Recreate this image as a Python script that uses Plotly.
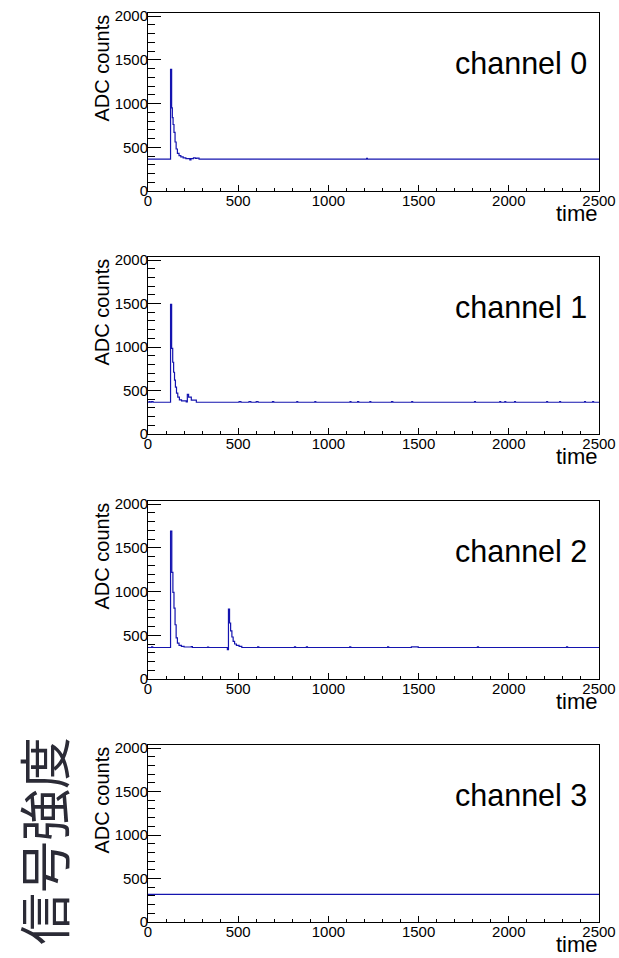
import plotly.graph_objects as go

W, H = 619, 958

# ---------------- data ----------------
ch0_t = [0, 125, 131, 135, 139, 144, 150, 156, 163, 172, 182, 195, 210, 232, 238, 252, 262, 270, 283, 1212, 1216, 2500]
ch0_v = [365, 1390, 950, 840, 760, 670, 560, 480, 430, 405, 390, 378, 370, 355, 370, 380, 372, 376, 365, 372, 365, 365]

ch1_t = [0, 6, 12, 20, 28, 125, 131, 137, 142, 147, 152, 158, 165, 174, 186, 212, 218, 225, 240, 268, 505, 515, 560, 570, 600, 610, 690, 697,
         825, 830, 925, 930, 1120, 1125, 1162, 1168, 1230, 1235, 1350, 1357, 1462, 1467, 1810, 1815, 1950, 1955, 1978, 1983, 2032, 2037,
         2210, 2215, 2282, 2287, 2420, 2425, 2465, 2470, 2500]
ch1_v = [365, 372, 365, 372, 365, 1490, 985, 825, 710, 620, 540, 470, 425, 392, 380, 370, 457, 423, 389, 365, 372, 365, 372, 365, 372, 365, 372, 365,
         372, 365, 372, 365, 372, 365, 372, 365, 372, 365, 372, 365, 372, 365, 372, 365, 372, 365, 372, 365, 372, 365,
         372, 365, 372, 365, 372, 365, 372, 365, 365]

ch2_t = [0, 20, 26, 125, 132, 138, 144, 150, 156, 163, 172, 185, 200, 240, 246, 330, 336, 440, 446, 452, 458, 465, 472, 480, 490, 505, 520,
         608, 614, 812, 818, 878, 884, 1118, 1124, 1328, 1334, 1460, 1498, 1826, 1832, 2320, 2326, 2500]
ch2_v = [360, 368, 360, 1690, 1220, 990, 810, 620, 470, 411, 385, 372, 366, 370, 360, 366, 360, 335, 800, 640, 550, 480, 430, 400, 385, 372, 360,
         368, 360, 368, 360, 368, 360, 368, 360, 368, 360, 368, 360, 368, 360, 368, 360, 360]

ch3_t = [0, 2500]
ch3_v = [318, 318]

channels = [(ch0_t, ch0_v), (ch1_t, ch1_v), (ch2_t, ch2_v), (ch3_t, ch3_v)]
labels = ["channel 0", "channel 1", "channel 2", "channel 3"]
x_tick_step = 500
y_tick_step = 500

# ---------------- layout ----------------
X0, X1 = 148, 599
panels = [(13, 191), (257, 434), (501, 679), (745, 922)]

def px(x):
    return x / W

def py(y):
    return 1 - y / H

fig = go.Figure()
font = "Liberation Sans, Arial, Helvetica, sans-serif"
line_col = "rgb(20,20,175)"

layout = dict(
    width=W, height=H,
    margin=dict(l=0, r=0, t=0, b=0, autoexpand=False),
    paper_bgcolor="white", plot_bgcolor="white",
    showlegend=False,
    font=dict(family=font, color="black"),
)
annotations = []

for i, ((t, v), lab, (top, bot)) in enumerate(zip(channels, labels, panels)):
    n = "" if i == 0 else str(i + 1)
    fig.add_trace(go.Scatter(x=t, y=v, mode="lines", line=dict(color=line_col, width=1.2, shape="hv"),
                             xaxis="x" + n, yaxis="y" + n, hoverinfo="skip"))
    layout["xaxis" + n] = dict(
        domain=[px(X0), px(X1)], anchor="y" + n, range=[0, 2500], automargin=False,
        showgrid=False, zeroline=False, showline=True, linecolor="black", linewidth=1, mirror=True,
        ticks="inside", ticklen=6, tickcolor="black", tickwidth=1,
        tickmode="linear", tick0=0, dtick=x_tick_step, ticklabelstandoff=-4,
        minor=dict(ticks="inside", ticklen=3, dtick=100, tickcolor="black", showgrid=False),
        tickfont=dict(size=15, family=font, color="black"),
    )
    layout["yaxis" + n] = dict(
        domain=[py(bot), py(top)], anchor="x" + n, range=[0, 2035], automargin=False,
        showgrid=False, zeroline=False, showline=True, linecolor="black", linewidth=1, mirror=True,
        ticks="inside", ticklen=13, tickcolor="black", tickwidth=1,
        tickmode="linear", tick0=0, dtick=y_tick_step, ticklabelstandoff=-4,
        minor=dict(ticks="inside", ticklen=7, dtick=100, tickcolor="black", showgrid=False),
        tickfont=dict(size=15, family=font, color="black"),
    )
    annotations.append(dict(text=lab, x=px(589), y=py(top + 50), xref="paper", yref="paper",
                            xanchor="right", yanchor="middle", showarrow=False,
                            font=dict(size=30.5, family=font, color="black")))
    annotations.append(dict(text="ADC counts", x=px(101), y=py(top), xref="paper", yref="paper",
                            xanchor="center", yanchor="top", textangle=-90, showarrow=False,
                            font=dict(size=20, family=font, color="black")))
    annotations.append(dict(text="time", x=px(600), y=py(bot + 8), xref="paper", yref="paper",
                            xanchor="right", yanchor="top", showarrow=False,
                            font=dict(size=22, family=font, color="black")))

annotations.append(dict(text="信号強度", x=px(42), y=py(841), xref="paper", yref="paper",
                        xanchor="center", yanchor="middle", textangle=-90, showarrow=False,
                        font=dict(size=52, family="Noto Sans CJK JP", color="#2b2b36")))

layout["annotations"] = annotations
fig.update_layout(**layout)
fig.write_html("out.html", config={"displayModeBar": False},
               post_script="document.body.style.margin='0';document.body.style.overflow='hidden';")
